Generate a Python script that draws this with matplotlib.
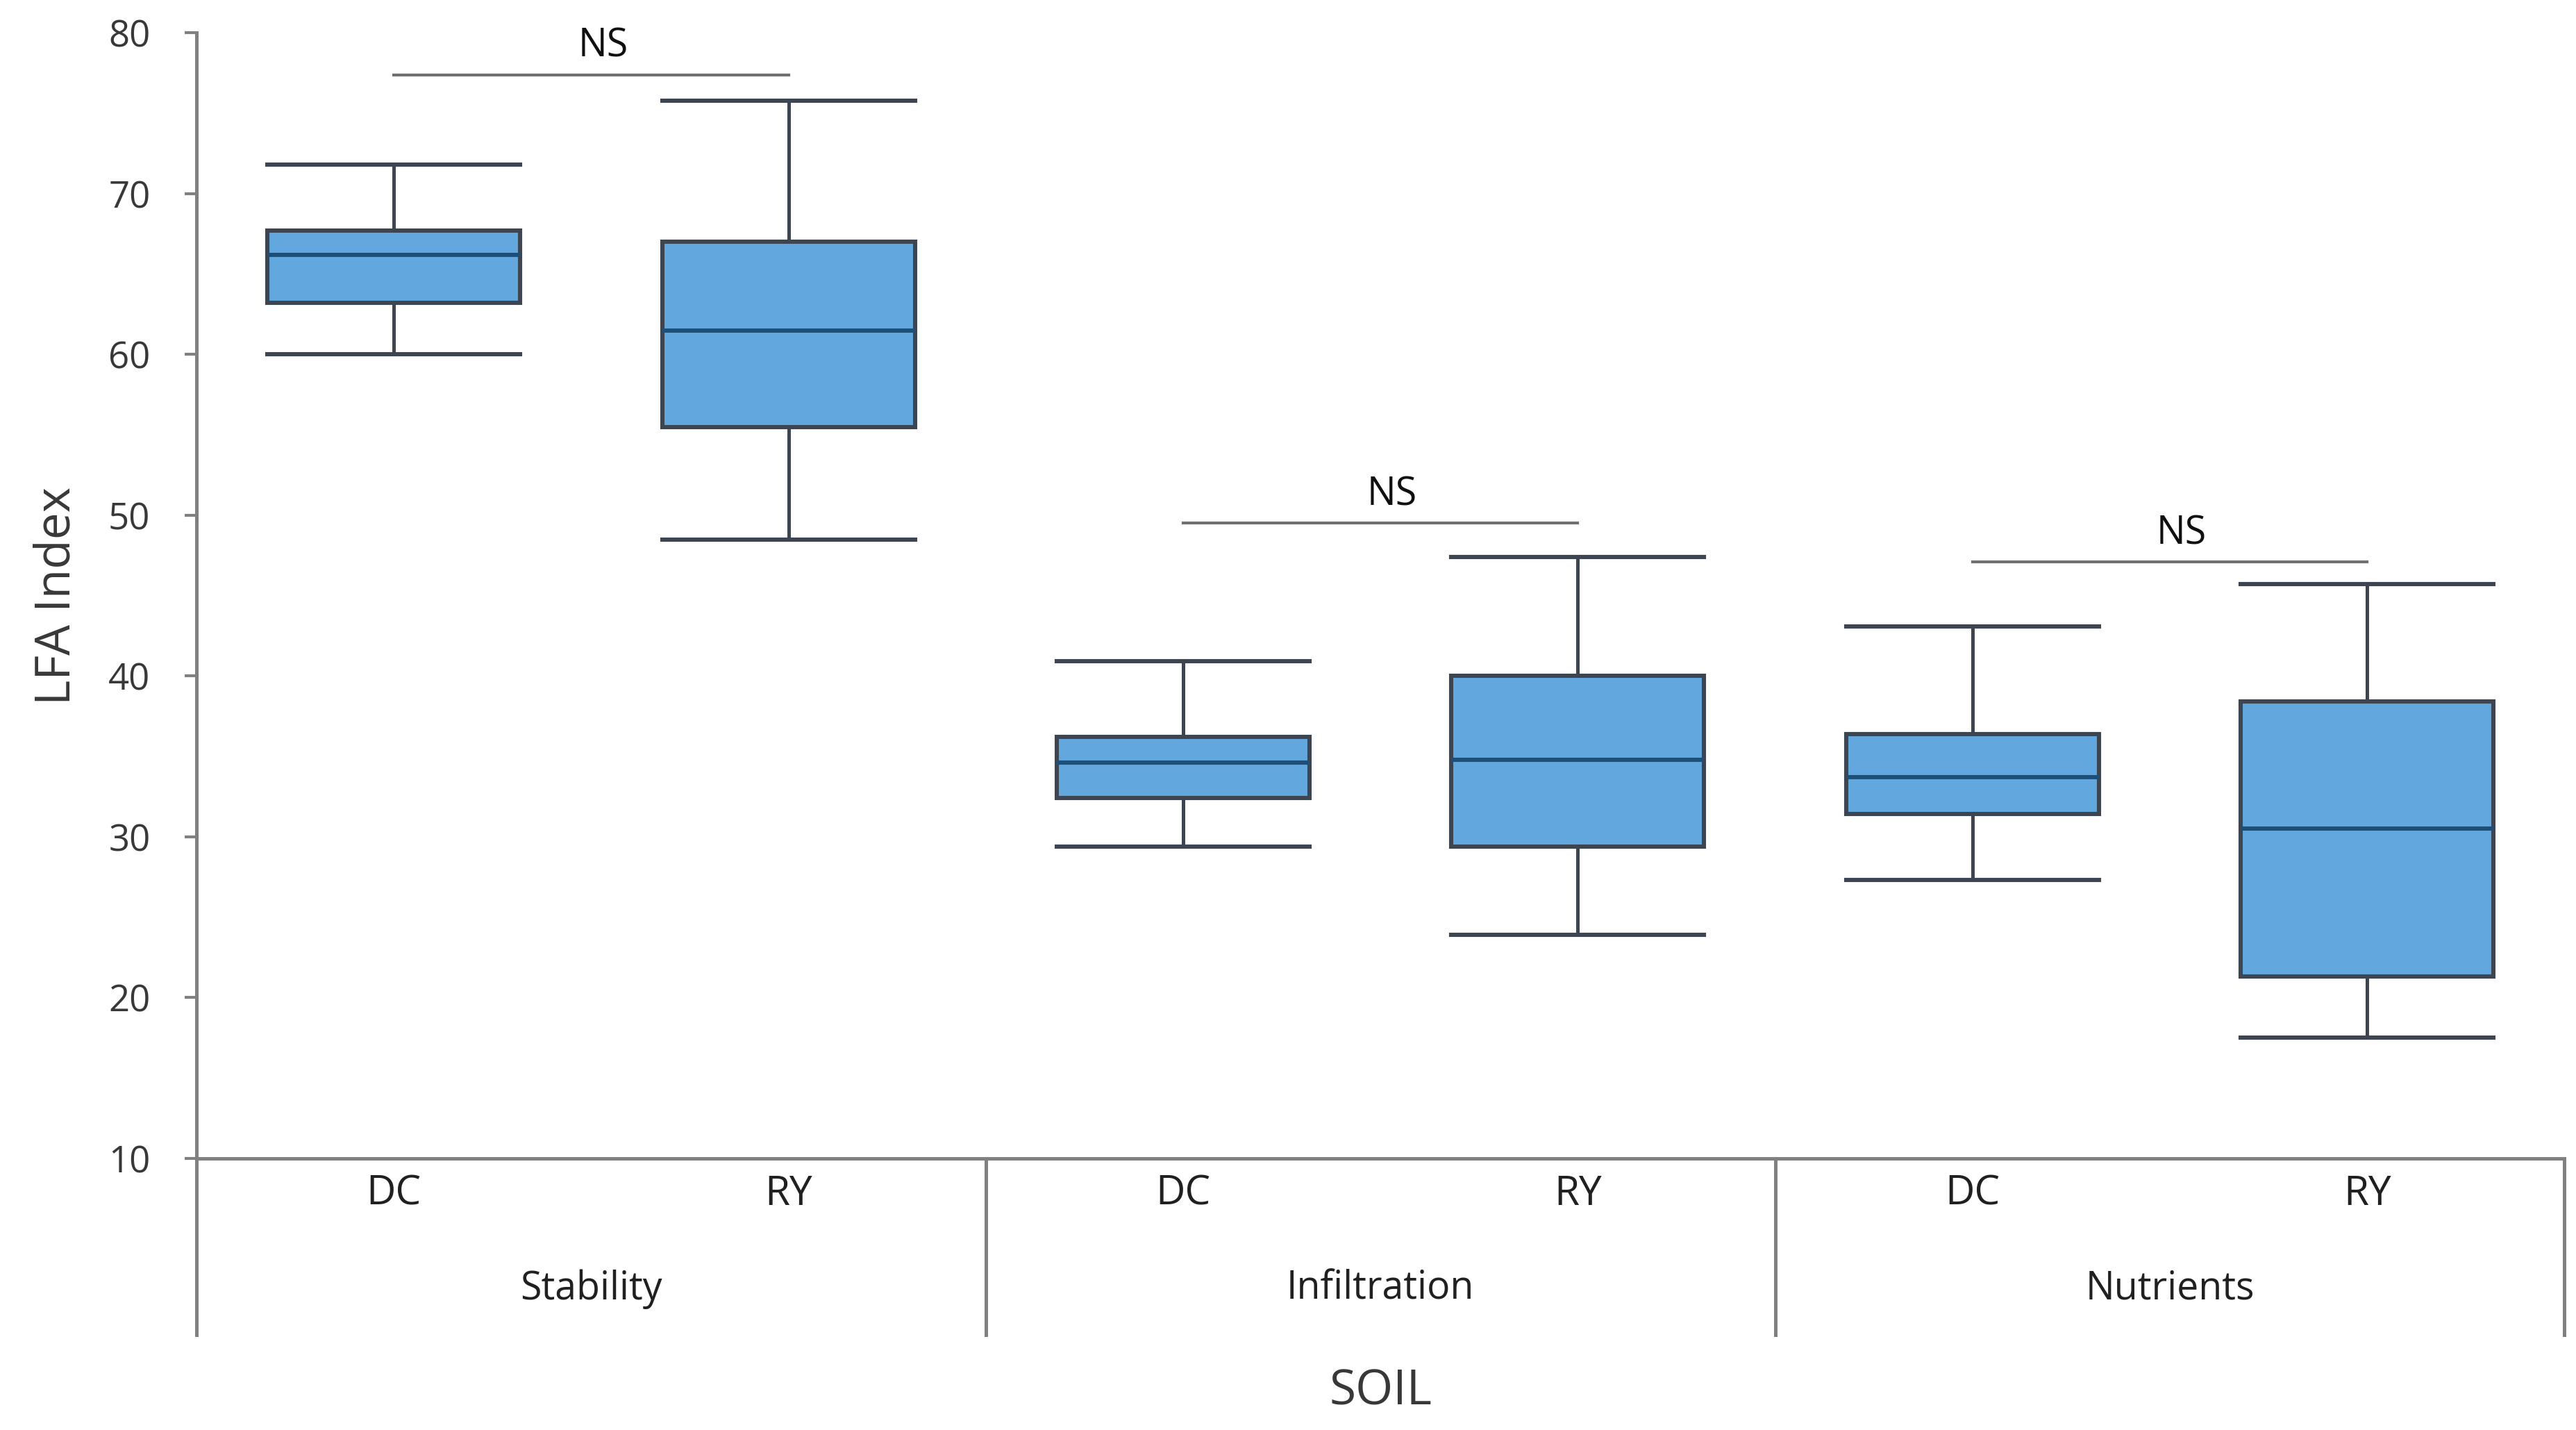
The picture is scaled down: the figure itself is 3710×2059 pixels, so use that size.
import matplotlib
matplotlib.use("Agg")
import matplotlib.pyplot as plt

# box statistics
groups = ['Stability', 'Infiltration', 'Nutrients']
soils = ['DC', 'RY', 'DC', 'RY', 'DC', 'RY']
whislo = [60.0, 48.5, 29.4, 23.9, 27.3, 17.5]
q1 = [63.2, 55.5, 32.4, 29.4, 31.4, 21.3]
med = [66.2, 61.5, 34.6, 34.8, 33.7, 30.5]
q3 = [67.7, 67.0, 36.2, 40.0, 36.4, 38.4]
whishi = [71.8, 75.8, 40.9, 47.4, 43.1, 45.7]
ns_y = [77.4, 49.5, 47.1]
yticks = [10, 20, 30, 40, 50, 60, 70, 80]

plt.rcParams['font.family'] = ['Open Sans', 'DejaVu Sans']

fig = plt.figure(figsize=(18.55, 10.295), dpi=200)
ax = fig.add_axes([0.0763, 0.190, 0.9192, 0.787])

stats = []
for i in range(len(soils)):
    stats.append({'whislo': whislo[i], 'q1': q1[i], 'med': med[i],
                  'q3': q3[i], 'whishi': whishi[i], 'fliers': [], 'label': soils[i]})

pos = list(range(len(soils)))
edge = '#3d4650'
ax.bxp(stats, positions=pos, widths=0.64, patch_artist=True, showfliers=False,
       boxprops=dict(facecolor='#62a8df', edgecolor=edge, linewidth=2.2),
       medianprops=dict(color='#1d4f78', linewidth=2.2),
       whiskerprops=dict(color=edge, linewidth=1.8),
       capprops=dict(color=edge, linewidth=2.2),
       capwidths=0.64)

ax.set_xlim(-0.5, 5.5)
ax.set_ylim(10, 80)
ax.set_yticks(yticks)
ax.tick_params(axis='y', length=6, width=1.5, color='#808080', labelsize=19,
               labelcolor='#383838', pad=18)
ax.tick_params(axis='x', length=0, labelsize=21, labelcolor='#202020', pad=8)
ax.set_xticks(pos)
ax.set_xticklabels(soils)

for s in ['top', 'right']:
    ax.spines[s].set_visible(False)
for s in ['left', 'bottom']:
    ax.spines[s].set_color('#808080')
    ax.spines[s].set_linewidth(1.8)

# group separators below the axis
trans = ax.get_xaxis_transform()
for xs in [-0.5, 1.5, 3.5, 5.5]:
    ax.plot([xs, xs], [0, -0.157], transform=trans, color='#808080',
            linewidth=1.8, clip_on=False)

for g, name in enumerate(groups):
    ax.text(2 * g + 0.5, -0.116, name, transform=trans, ha='center', va='center',
            fontsize=20, color='#202020')

# NS brackets
for g in range(len(groups)):
    x0, x1 = 2 * g, 2 * g + 1
    ax.plot([x0, x1], [ns_y[g], ns_y[g]], color='#707070', linewidth=1.5)
    ax.text((x0 + x1) / 2 + 0.03, ns_y[g] + 0.5, 'NS', ha='center', va='bottom',
            fontsize=20, color='#101010')

ax.text(2.5, -0.208, 'SOIL', transform=trans, ha='center', va='center',
        fontsize=25, color='#383838')
ax.set_ylabel('LFA Index', fontsize=25, color='#383838', labelpad=14)

fig.savefig('out.png', dpi=200)
